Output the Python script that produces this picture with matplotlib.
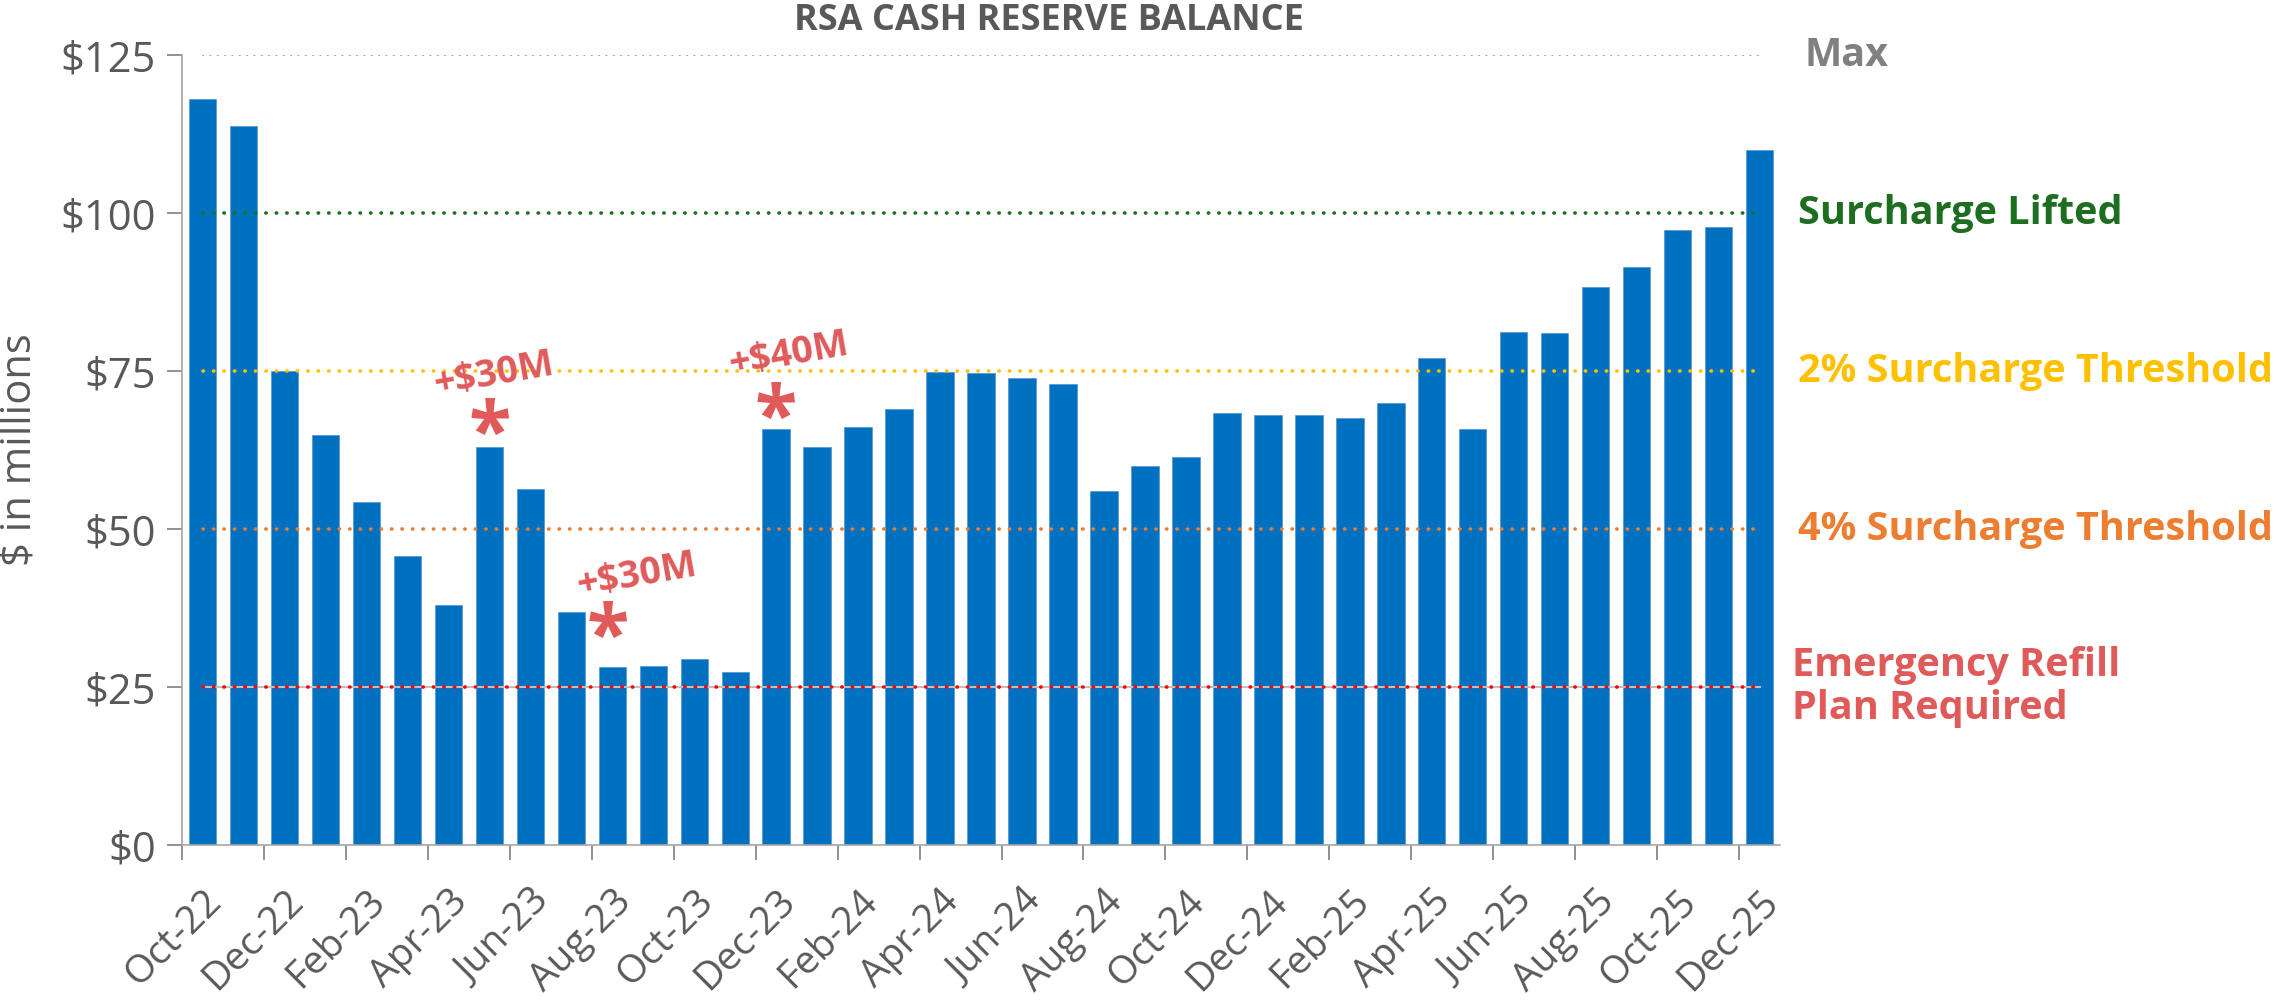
import matplotlib.pyplot as plt
from matplotlib.transforms import ScaledTranslation

months = [
    "Oct-22", "Nov-22", "Dec-22",
    "Jan-23", "Feb-23", "Mar-23", "Apr-23", "May-23", "Jun-23",
    "Jul-23", "Aug-23", "Sep-23", "Oct-23", "Nov-23", "Dec-23",
    "Jan-24", "Feb-24", "Mar-24", "Apr-24", "May-24", "Jun-24",
    "Jul-24", "Aug-24", "Sep-24", "Oct-24", "Nov-24", "Dec-24",
    "Jan-25", "Feb-25", "Mar-25", "Apr-25", "May-25", "Jun-25",
    "Jul-25", "Aug-25", "Sep-25", "Oct-25", "Nov-25", "Dec-25",
]
balance = [
    118.0, 113.8, 75.0,
    64.8, 54.2, 45.8, 37.9, 63.0, 56.3,
    36.8, 28.2, 28.4, 29.5, 27.4, 65.8,
    63.0, 66.2, 69.0, 74.8, 74.7, 73.9,
    73.0, 56.0, 60.0, 61.4, 68.3, 68.1,
    68.1, 67.6, 69.9, 77.0, 65.8, 81.2,
    81.0, 88.3, 91.4, 97.3, 97.8, 110.0,
]

levels = [125, 100, 75, 50, 25]
level_labels = ["Max", "Surcharge Lifted", "2% Surcharge Threshold",
                "4% Surcharge Threshold", "Emergency Refill\nPlan Required"]
level_colors = ["#A6A6A6", "#1E6E22", "#FFC000", "#ED7D31", "#FF0000"]
label_colors = ["#808080", "#1E6E22", "#FFC000", "#ED7D31", "#E05A5A"]

refill_months = ["May-23", "Aug-23", "Dec-23"]
refill_labels = ["+$30M", "+$30M", "+$40M"]

plt.rcParams["font.family"] = ["Open Sans", "DejaVu Sans"]

fig = plt.figure(figsize=(22.85, 10.08), dpi=100)
ax = fig.add_axes([0.0797, 0.1617, 0.6993, 0.7837])

x = list(range(len(months)))
ax.bar(x, balance, width=0.67, color="#0070C0", edgecolor="#5B9BD5",
       linewidth=0.6, zorder=2)

# threshold lines run from first to last bar centre
for lvl, col in zip(levels, level_colors):
    if lvl == 125:
        ax.plot([x[0], x[-1]], [lvl, lvl], color=col, lw=1.6,
                linestyle=(0, (0.1, 3.2)), dash_capstyle="round", zorder=3)
    else:
        if lvl == 25:
            ax.plot([x[0], x[-1]], [lvl, lvl], color="#BFBFBF", lw=1.5, zorder=3)
        ax.plot([x[0], x[-1]], [lvl, lvl], color=col, lw=2.6,
                linestyle=(0, (0.1, 2.8)), dash_capstyle="round", zorder=4)

for lvl, txt, col in zip(levels, level_labels, label_colors):
    xo = 39.1 if txt == "Max" else (38.8 if "\n" in txt else 38.95)
    ax.text(xo, lvl, txt, color=col, fontsize=28.5, fontweight="bold",
            ha="left", va="center", clip_on=False, linespacing=1.15)

# refill annotations
star_pos = {"May-23": (0.0, 64.5), "Aug-23": (-0.1, 32.3), "Dec-23": (0.0, 67.0)}
text_pos = {"May-23": (7.1, 74.4), "Aug-23": (10.6, 42.6), "Dec-23": (14.3, 77.6)}
for m, lab in zip(refill_months, refill_labels):
    sx, sy = star_pos[m]
    i = months.index(m)
    ax.text(i + sx, sy, "*", color="#E05A5A", fontsize=56, fontweight="bold",
            ha="center", va="center", zorder=5)
    tx, ty = text_pos[m]
    ax.text(tx, ty, lab, color="#E05A5A", fontsize=27, fontweight="bold",
            ha="center", va="center", rotation=10, zorder=5)

ax.set_xlim(-0.5, len(months) - 0.5)
ax.set_ylim(0, 125)

ax.set_yticks([0, 25, 50, 75, 100, 125])
ax.set_yticklabels(["$0", "$25", "$50", "$75", "$100", "$125"])
ax.set_xticks([k - 0.5 for k in range(0, len(months), 2)])
ax.set_xticklabels([])
ax.set_xticks(x[::2], minor=True)
ax.set_xticklabels(months[::2], minor=True, rotation=45, ha="right",
                   rotation_mode="anchor")
shift = ScaledTranslation(0.11, 0, fig.dpi_scale_trans)
for lab in ax.get_xticklabels(minor=True):
    lab.set_transform(lab.get_transform() + shift)

ax.tick_params(axis="y", labelsize=30, labelcolor="#595959", length=11,
               width=1.2, pad=8, color="#7F7F7F")
ax.tick_params(axis="x", which="major", length=11, width=1.2, color="#7F7F7F")
ax.tick_params(axis="x", which="minor", length=0, labelsize=28,
               labelcolor="#595959", pad=27)

for s in ["top", "right"]:
    ax.spines[s].set_visible(False)
for s in ["left", "bottom"]:
    ax.spines[s].set_color("#A6A6A6")
    ax.spines[s].set_linewidth(1.2)

ax.set_ylabel("$ in millions", fontsize=30, color="#595959", labelpad=14)

fig.text(0.459, 0.979, "RSA CASH RESERVE BALANCE", ha="center", va="center",
         fontsize=26, fontweight="bold", color="#595959")

plt.savefig("out.png", dpi=100)
